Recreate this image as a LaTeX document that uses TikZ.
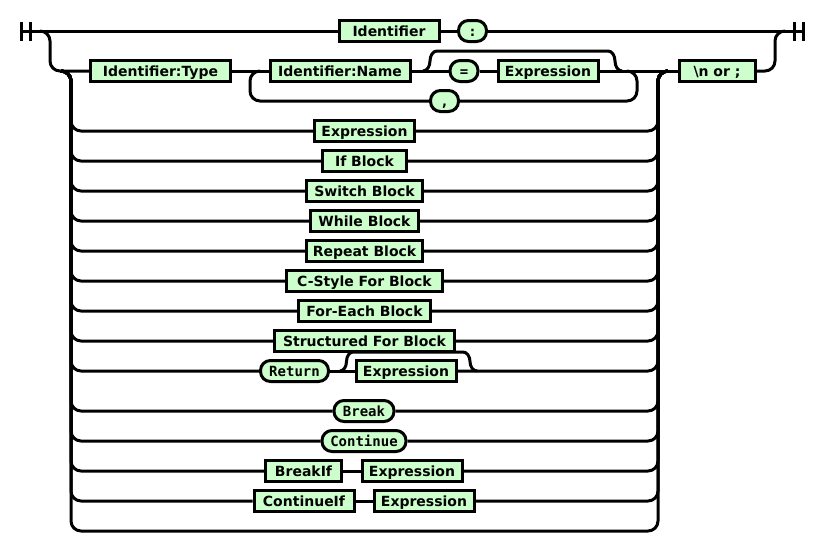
\documentclass[tikz,border=0pt]{standalone}
\usepackage{fontspec}
\setmainfont{DejaVu Sans}
\setmonofont{DejaVu Sans Mono}
\usetikzlibrary{backgrounds}
\definecolor{boxfill}{HTML}{CCFFCC}
\begin{document}
\begin{tikzpicture}[x=1pt,y=-1pt,
  rail/.style={draw, line width=3pt, rounded corners=10pt},
  curve/.style={draw, line width=3pt},
  box/.style={draw, fill=boxfill, line width=3pt, minimum height=21pt, inner sep=0pt,
    text height=10.2pt, text depth=0pt, font=\fontsize{14}{15}\selectfont\bfseries},
  nt/.style={box},
  term/.style={box, rounded corners=10pt, font=\fontsize{14}{15}\selectfont\ttfamily\bfseries},
  w/.style={minimum width=#1pt}]

% coordinates
\coordinate (s1) at (21.5,31);
\coordinate (e2) at (803,31);
\coordinate (ol) at (40,31);
\coordinate (cl) at (61,71);
\coordinate (cr) at (668,71);
\coordinate (lpr) at (627,71);
\coordinate (lpl) at (260,71);

% nodes
\node[nt,w=100] (ident) at (389,31) {Identifier};
\node[term,w=28] (colon) at (472.5,31) {:};
\node[nt,w=140] (itype) at (160.5,71) {Identifier:Type};
\node[nt,w=140] (iname) at (340,71) {Identifier:Name};
\node[term,w=28] (eq) at (464,71) {=};
\node[nt,w=100] (expa) at (548,71) {Expression};
\node[term,w=28] (comma) at (444.5,101) {,};
\node[nt,w=76] (nor) at (717,71) {\textbackslash n or ;};

\node[nt,w=100] (expb) at (364.5,131) {Expression};
\node[nt,w=84] (ifb) at (364.5,161) {If Block};
\node[nt,w=116] (swb) at (364.5,191) {Switch Block};
\node[nt,w=108] (whb) at (364.5,221) {While Block};
\node[nt,w=116] (rpb) at (364.5,251) {Repeat Block};
\node[nt,w=156] (cfb) at (364.5,281) {C-Style For Block};
\node[nt,w=132] (feb) at (364.5,311) {For-Each Block};
\node[nt,w=180] (sfb) at (364.5,341) {Structured For Block};
\node[term,w=68] (ret) at (294.5,371) {Return};
\node[nt,w=100] (expc) at (406,371) {Expression};
\node[term,w=60] (brk) at (364,411) {Break};
\node[term,w=84] (cont) at (364,441) {Continue};
\node[nt,w=76] (brkif) at (303.5,471) {BreakIf};
\node[nt,w=100] (expd) at (412,471) {Expression};
\node[nt,w=100] (contif) at (304,501) {ContinueIf};
\node[nt,w=100] (expe) at (424,501) {Expression};

\begin{scope}[on background layer]
\fill[white] (0,0) rectangle (825,542);
% start / end bars
\draw[line width=3pt] (21.5,22) -- (21.5,41) (30.5,22) -- (30.5,41);
\draw[line width=3pt] (794.5,22) -- (794.5,41) (803,22) -- (803,41);

% top line
\draw[rail] (s1) -- (ident.west);
\draw[rail] (ident.east) -- (colon.west);
\draw[rail] (colon.east) -- (e2);

% outer lower branch
\draw[rail] (ol) -- (50,31) -- (50,71) -- (itype.west);
\draw[rail] (nor.east) -- (775,71) -- (775,31) -- (785,31);

% first inner branch
\draw[rail] (itype.east) -- (iname.west);
\draw[rail] (iname.east) -- (eq.west);
\draw[rail] (eq.east) -- (expa.west);
\draw[rail] (expa.east) -- (nor.west);
\draw[curve] (423,71) .. controls (426.9,71) and (430,66.5) .. (430,61)
  .. controls (430,55.5) and (433.1,51) .. (437,51) -- (608,51)
  .. controls (611.9,51) and (615,55.5) .. (615,61)
  .. controls (615,66.5) and (618.1,71) .. (622,71);
\draw[rail] (lpl) -- (250,71) -- (250,101) -- (comma.west);
\draw[rail] (lpr) -- (637,71) -- (637,101) -- (comma.east);

% choice branches, left side
\foreach \n in {expb,ifb,swb,whb,rpb,cfb,feb,sfb,ret,brk,cont,brkif,contif}
  \draw[rail] (cl) -- (71,71) |- (\n.west);
% right side
\foreach \n in {expb,ifb,swb,whb,rpb,cfb,feb,sfb,expc,brk,cont,expd,expe}
  \draw[rail] (\n.east) -| (658,71) -- (cr);
% empty branch
\draw[rail] (cl) -- (71,71) |- (658,531) -- (658,71) -- (cr);

% sequences inside rows
\draw[rail] (ret.east) -- (expc.west);
\draw[rail] (brkif.east) -- (expd.west);
\draw[rail] (contif.east) -- (expe.west);
\draw[curve] (340,371) .. controls (343.6,371) and (346.5,366.7) .. (346.5,361.5)
  .. controls (346.5,356.3) and (349.4,352) .. (353,352) -- (463,352)
  .. controls (466.9,352) and (470,356.3) .. (470,361.5)
  .. controls (470,366.7) and (473.1,371) .. (477,371);
\end{scope}
\useasboundingbox (0,0) rectangle (825,542);
\end{tikzpicture}
\end{document}
